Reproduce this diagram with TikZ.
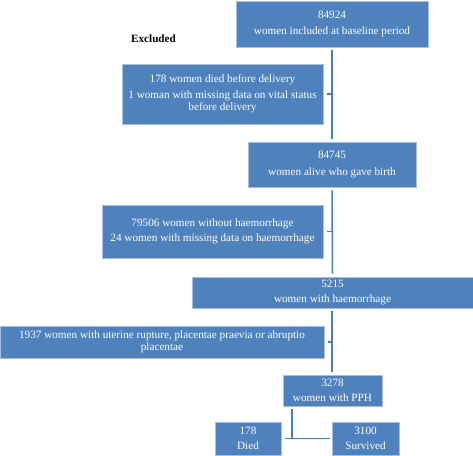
\documentclass[tikz,border=0pt]{standalone}
\usepackage{fontspec}
\setmainfont{Liberation Serif}
\definecolor{boxblue}{HTML}{4F81BD}
\definecolor{boxedge}{HTML}{A7BFDE}
\definecolor{linkblue}{HTML}{4A7EBB}
\tikzset{
  fbox/.style={rectangle, fill=boxblue, draw=boxedge, line width=0.6pt, text=white,
    font=\fontsize{11.2}{12.5}\selectfont, align=center, inner sep=0pt},
  conn/.style={draw=linkblue, line width=1.5pt},
  lbl/.style={font=\fontsize{11.2}{12.5}\selectfont\bfseries, text=black, inner sep=0pt}
}
\begin{document}
\begin{tikzpicture}[x=1pt,y=-1pt]
\useasboundingbox (0,0) rectangle (473,455);
\node[fbox, minimum width=192pt, minimum height=46pt] (b1) at (332,24)
  {84924\\[4pt]women included at baseline period};
\node[lbl] (ex) at (153.5,39) {Excluded};
\node[fbox, minimum width=201pt, minimum height=60pt] (e1) at (222.5,94)
  {178 women died before delivery\\[3pt]1 woman with missing data on vital status\\before delivery};
\node[fbox, minimum width=168pt, minimum height=45pt] (b2) at (332,164.5)
  {84745\\[4pt]women alive who gave birth};
\node[fbox, minimum width=221pt, minimum height=53pt] (e2) at (212.5,231.5)
  {79506 women without haemorrhage\\[3pt]24 women with missing data on haemorrhage};
\node[fbox, minimum width=281pt, minimum height=31pt] (b3) at (332.5,292.5)
  {5215\\[3pt]women with haemorrhage};
\node[fbox, minimum width=324pt, minimum height=32pt] (e3) at (162,342)
  {1937 women with uterine rupture, placentae praevia or abruptio\\placentae};
\node[fbox, minimum width=99pt, minimum height=31pt] (b4) at (332.5,390.5)
  {3278\\[3pt]women with PPH};
\node[fbox, minimum width=66pt, minimum height=33pt] (d) at (248,438.5)
  {178\\[3pt]Died};
\node[fbox, minimum width=67pt, minimum height=33pt] (s) at (365.5,438.5)
  {3100\\[3pt]Survived};
\coordinate (j) at (292,438.5);
% main spine
\draw[conn] ([yshift=-3pt]b1.south) -- ([yshift=3pt]b2.north);
\draw[conn] ([xshift=4pt]e1.east) -- (e1.east -| b1.south);
\draw[conn] ([yshift=-3pt]b2.south) -- ([yshift=3pt]b3.north);
\draw[conn] ([xshift=4pt]e2.east) -- (e2.east -| b2.south);
\draw[conn] ([yshift=-3pt]b3.south -| b2.south) -- ([yshift=3pt]b4.north -| b2.south);
\draw[conn] ([xshift=4pt]e3.east) -- (e3.east -| b2.south);
% split
\draw[conn] ([yshift=-3pt]b4.south -| j) -- (j);
\draw[conn] ([xshift=4pt]d.east) -- ([xshift=-2pt]s.west);
\end{tikzpicture}
\end{document}
